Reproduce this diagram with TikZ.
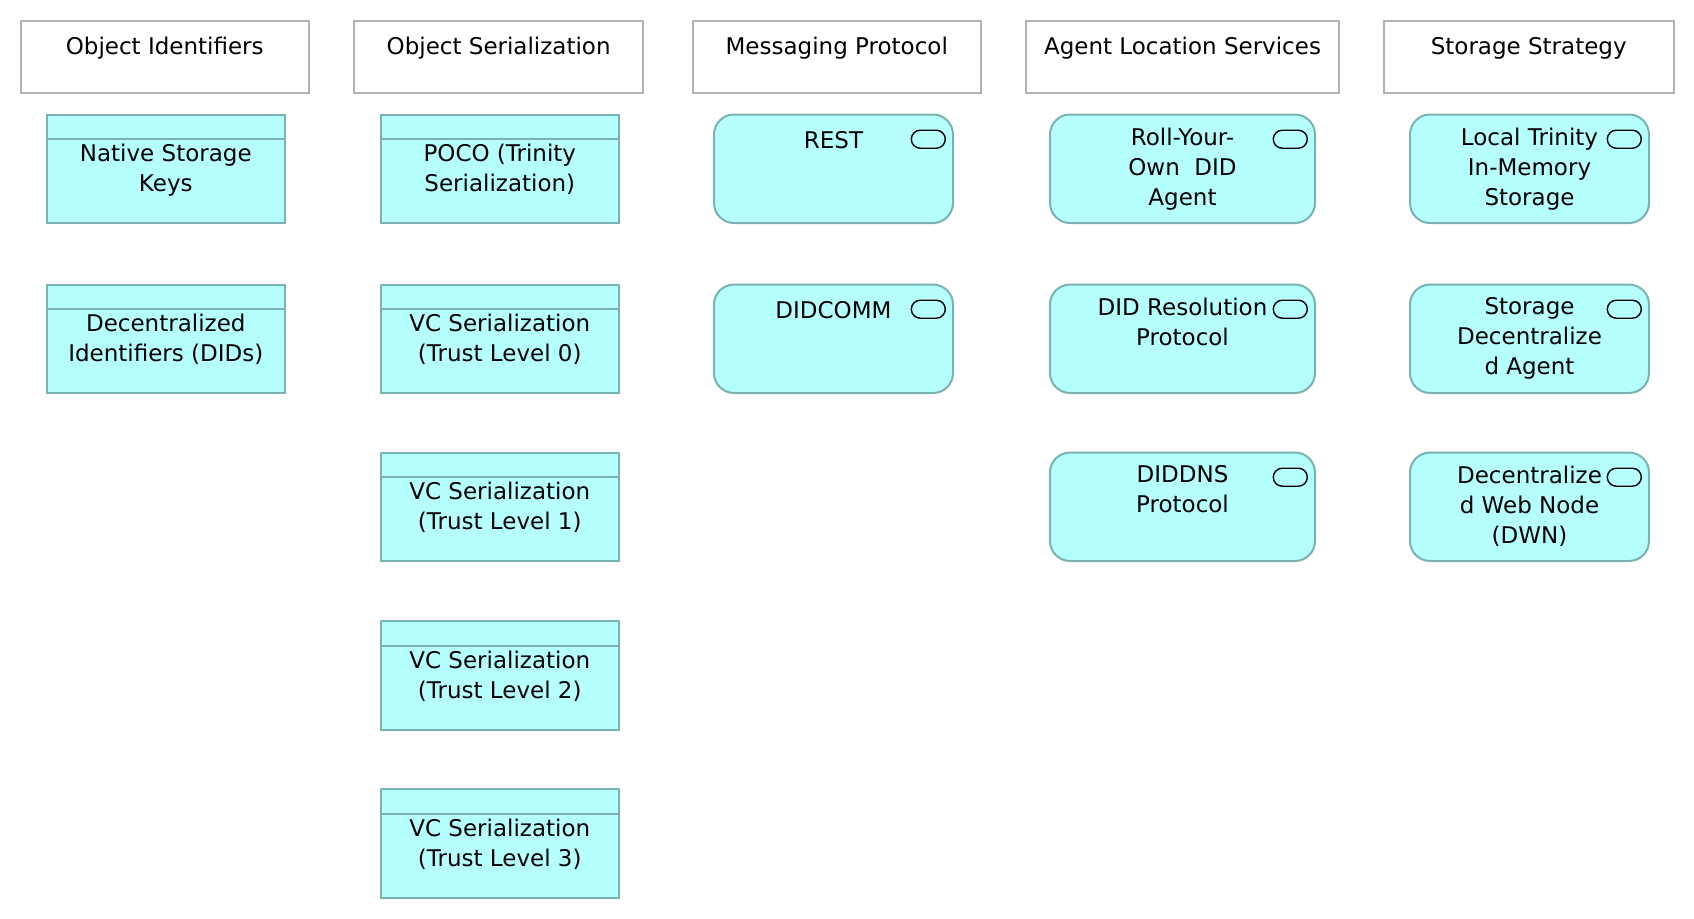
\documentclass[tikz,border=0pt]{standalone}
\usepackage{fontspec}
\setmainfont{DejaVu Sans}
\usetikzlibrary{positioning}
\definecolor{appfill}{RGB}{181,255,255}
\definecolor{appedge}{RGB}{122,178,178}
\definecolor{hdredge}{RGB}{178,178,178}

\begin{document}
\begin{tikzpicture}[x=1pt,y=-1pt,font=\fontsize{11.5}{15}\selectfont,
	hdrbox/.style={draw=hdredge,line width=1pt,fill=white,anchor=north west,inner sep=0pt,outer sep=0pt,minimum width=144.25pt,minimum height=36.25pt},
	objbox/.style={draw=appedge,line width=1pt,fill=appfill,anchor=north west,inner sep=0pt,outer sep=0pt,minimum width=119.3pt,minimum height=54.25pt},
	srvbox/.style={objbox,rounded corners=10pt,minimum width=119.5pt},
	pill/.style={draw=black,line width=0.7pt,rounded corners=4.5pt,inner sep=0pt,minimum width=17pt,minimum height=9pt},
	stripe/.style={draw=appedge,line width=1pt},
	txt/.style={inner sep=0pt,align=center,execute at begin node=\strut}]
\useasboundingbox (0,0) rectangle (847,459);

%le intestazioni
\node[hdrbox] (hid) at (10.25,10.25) {};
\node[txt,below=6.25pt of hid.north] (hid-t) {Object Identifiers};
\node[hdrbox] (hser) at (177.2,10.25) {};
\node[txt,below=6.25pt of hser.north] (hser-t) {Object Serialization};
\node[hdrbox] (hmsg) at (346.25,10.25) {};
\node[txt,below=6.25pt of hmsg.north] (hmsg-t) {Messaging Protocol};
\node[hdrbox,minimum width=156.1pt] (hloc) at (513.2,10.25) {};
\node[txt,below=6.25pt of hloc.north] (hloc-t) {Agent Location Services};
\node[hdrbox,minimum width=144.75pt] (hsto) at (692,10.25) {};
\node[txt,below=6.25pt of hsto.north] (hsto-t) {Storage Strategy};

%gli identificatori
\node[objbox] (nsk) at (23.25,57.25) {};
\draw[stripe] ([yshift=-12.25pt]nsk.north west) -- ([yshift=-12.25pt]nsk.north east);
\node[txt,below=14.75pt of nsk.north] (nsk-t) {Native Storage\\Keys};
\node[objbox] (dids) at (23.25,142.25) {};
\draw[stripe] ([yshift=-12.25pt]dids.north west) -- ([yshift=-12.25pt]dids.north east);
\node[txt,below=14.75pt of dids.north] (dids-t) {Decentralized\\Identifiers (DIDs)};

%la serializzazione
\node[objbox] (poco) at (190.25,57.25) {};
\draw[stripe] ([yshift=-12.25pt]poco.north west) -- ([yshift=-12.25pt]poco.north east);
\node[txt,below=14.75pt of poco.north] (poco-t) {POCO (Trinity\\Serialization)};
\node[objbox] (vc0) at (190.25,142.25) {};
\draw[stripe] ([yshift=-12.25pt]vc0.north west) -- ([yshift=-12.25pt]vc0.north east);
\node[txt,below=14.75pt of vc0.north] (vc0-t) {VC Serialization\\(Trust Level 0)};
\node[objbox] (vc1) at (190.25,226.25) {};
\draw[stripe] ([yshift=-12.25pt]vc1.north west) -- ([yshift=-12.25pt]vc1.north east);
\node[txt,below=14.75pt of vc1.north] (vc1-t) {VC Serialization\\(Trust Level 1)};
\node[objbox] (vc2) at (190.25,310.5) {};
\draw[stripe] ([yshift=-12.25pt]vc2.north west) -- ([yshift=-12.25pt]vc2.north east);
\node[txt,below=14.75pt of vc2.north] (vc2-t) {VC Serialization\\(Trust Level 2)};
\node[objbox] (vc3) at (190.25,394.5) {};
\draw[stripe] ([yshift=-12.25pt]vc3.north west) -- ([yshift=-12.25pt]vc3.north east);
\node[txt,below=14.75pt of vc3.north] (vc3-t) {VC Serialization\\(Trust Level 3)};

%i protocolli
\node[srvbox] (rest) at (357,57.25) {};
\node[txt,below=6.5pt of rest.north] (rest-t) {REST};
\node[pill,below left=7.5pt and 3.5pt of rest.north east] (rest-p) {};
\node[srvbox] (dcomm) at (357,142.25) {};
\node[txt,below=6.5pt of dcomm.north] (dcomm-t) {DIDCOMM};
\node[pill,below left=7.5pt and 3.5pt of dcomm.north east] (dcomm-p) {};

%la localizzazione
\node[srvbox,minimum width=132.5pt] (ryo) at (525,57.25) {};
\node[txt,below=6.5pt of ryo.north] (ryo-t) {Roll-Your-\\Own~~DID\\Agent};
\node[pill,below left=7.5pt and 3.5pt of ryo.north east] (ryo-p) {};
\node[srvbox,minimum width=132.5pt] (didres) at (525,142.25) {};
\node[txt,below=6.5pt of didres.north] (didres-t) {DID Resolution\\Protocol};
\node[pill,below left=7.5pt and 3.5pt of didres.north east] (didres-p) {};
\node[srvbox,minimum width=132.5pt] (diddns) at (525,226.25) {};
\node[txt,below=6.5pt of diddns.north] (diddns-t) {DIDDNS\\Protocol};
\node[pill,below left=7.5pt and 3.5pt of diddns.north east] (diddns-p) {};

%la memorizzazione
\node[srvbox] (ltims) at (705,57.25) {};
\node[txt,below=6.5pt of ltims.north] (ltims-t) {Local Trinity\\In-Memory\\Storage};
\node[pill,below left=7.5pt and 3.5pt of ltims.north east] (ltims-p) {};
\node[srvbox] (sda) at (705,142.25) {};
\node[txt,below=6.5pt of sda.north] (sda-t) {Storage\\Decentralize\\d Agent};
\node[pill,below left=7.5pt and 3.5pt of sda.north east] (sda-p) {};
\node[srvbox] (dwn) at (705,226.25) {};
\node[txt,below=6.5pt of dwn.north] (dwn-t) {Decentralize\\d Web Node\\(DWN)};
\node[pill,below left=7.5pt and 3.5pt of dwn.north east] (dwn-p) {};

\end{tikzpicture}
\end{document}
